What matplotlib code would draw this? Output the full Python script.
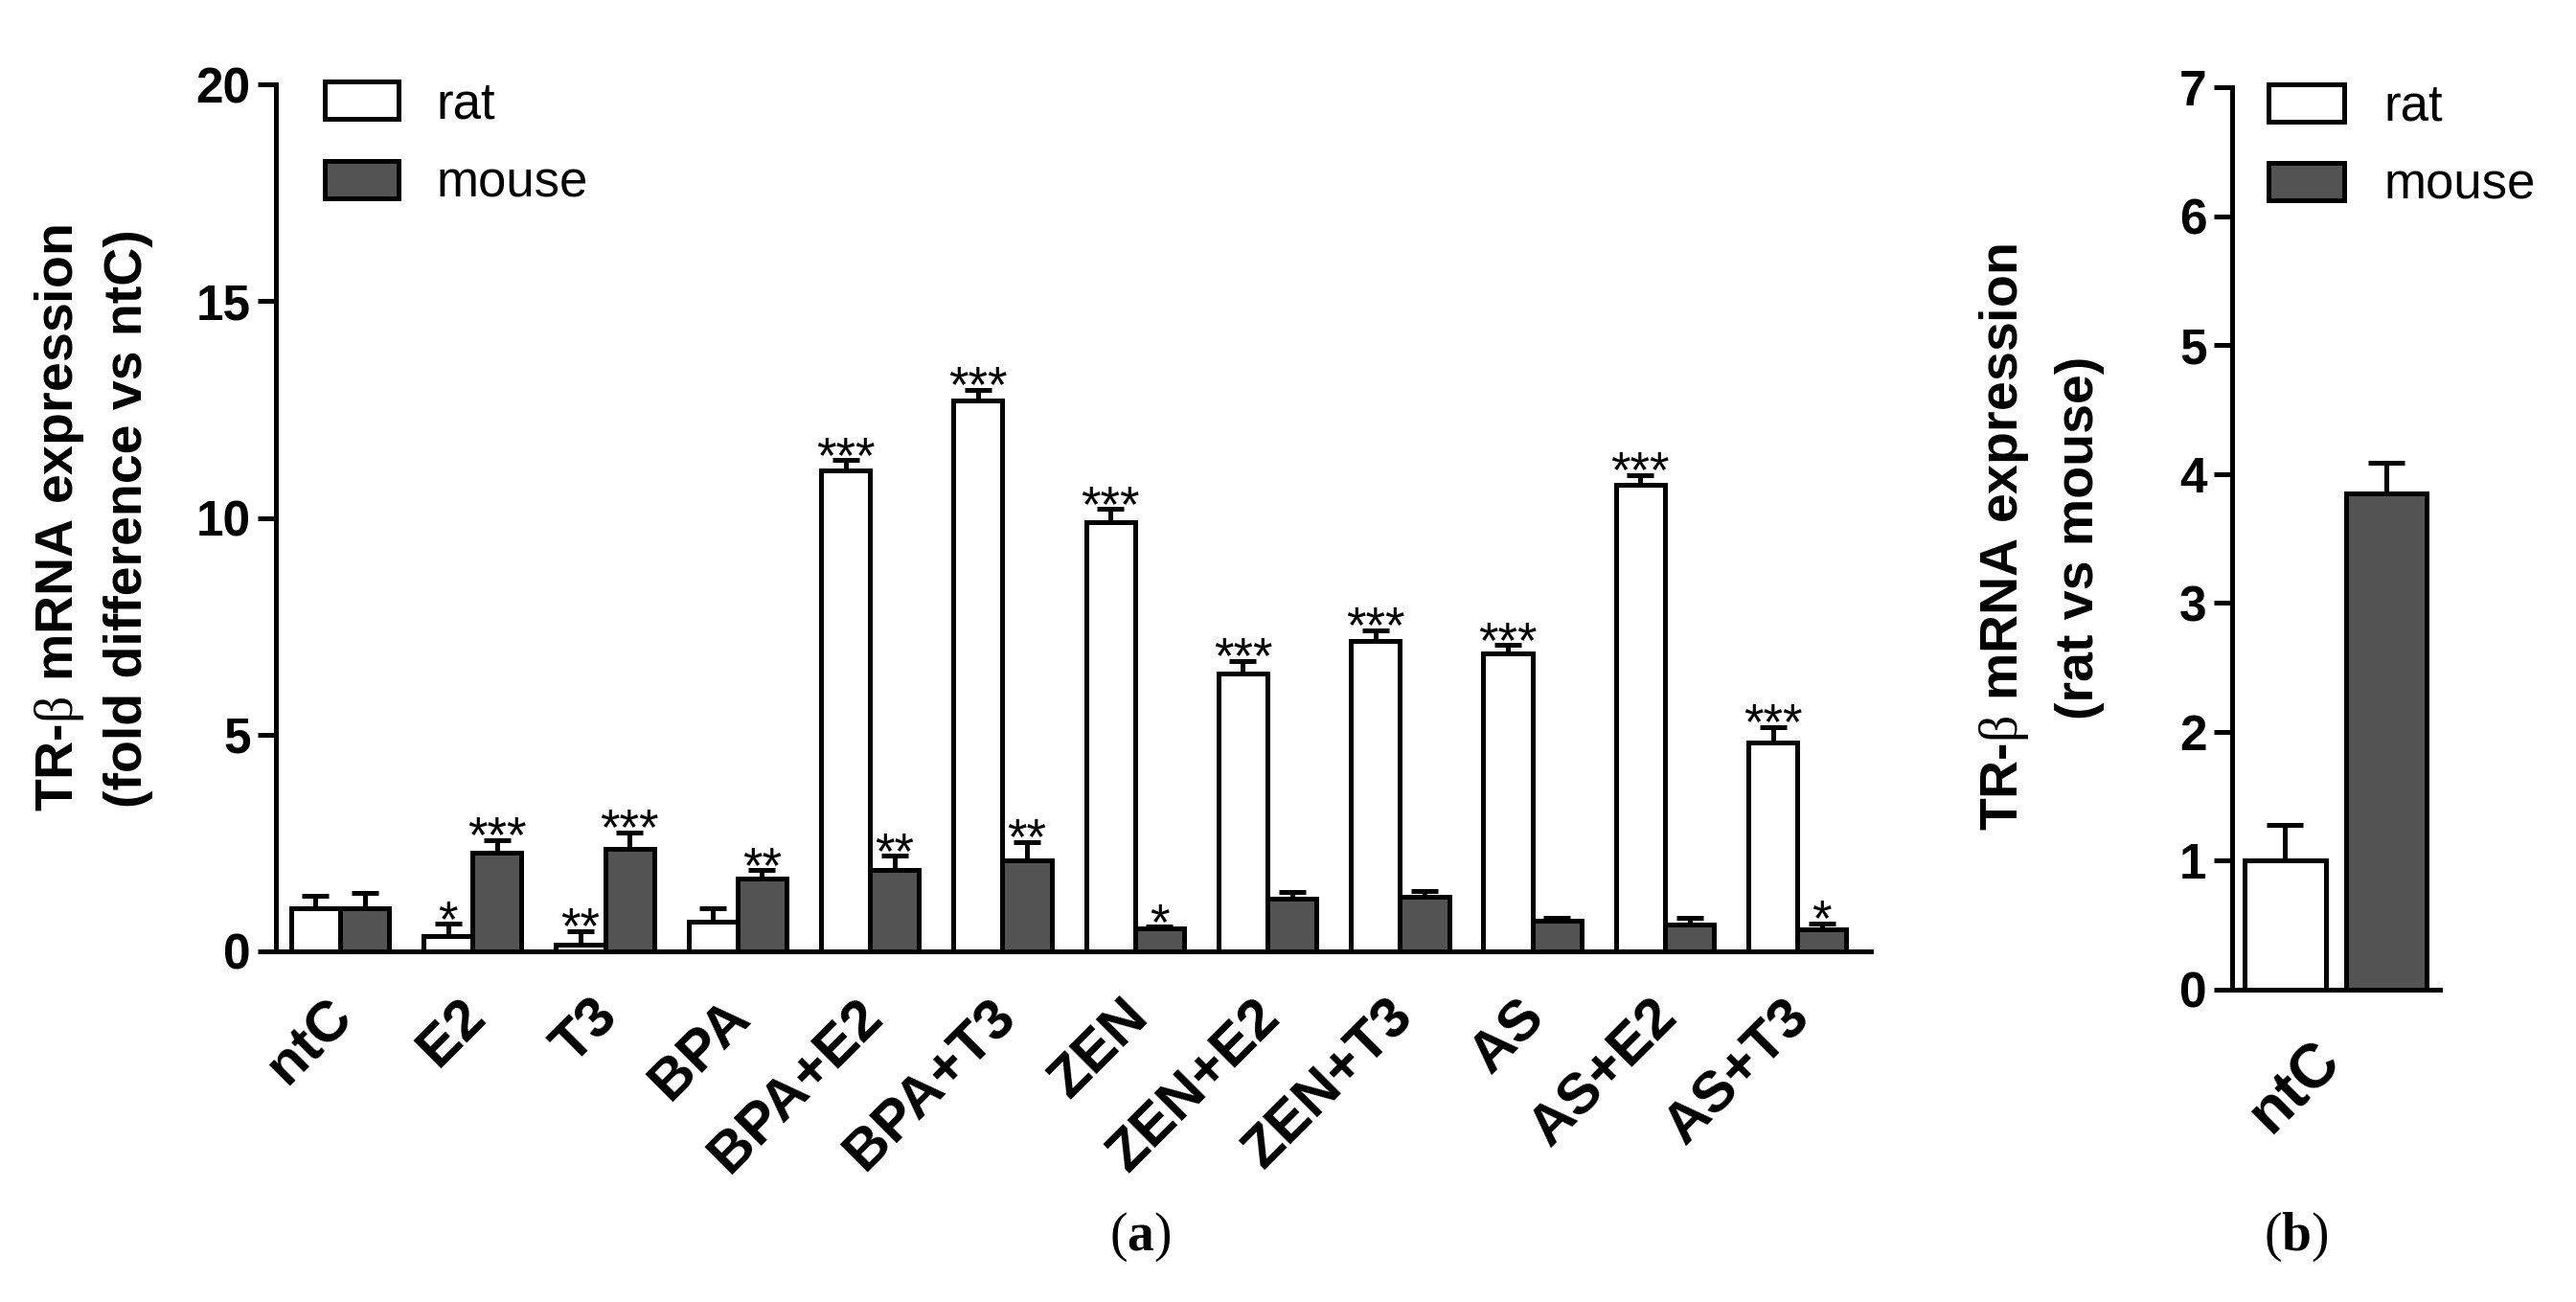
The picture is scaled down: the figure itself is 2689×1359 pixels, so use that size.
import matplotlib
matplotlib.use('Agg')
import matplotlib.pyplot as plt
import matplotlib.transforms as mtransforms
import numpy as np

plt.rcParams['font.family'] = ['Liberation Sans', 'DejaVu Sans']
plt.rcParams['mathtext.fontset'] = 'custom'
plt.rcParams['mathtext.rm'] = 'Liberation Serif'
plt.rcParams['mathtext.bf'] = 'Liberation Serif:bold'

# ---------------- data: panel (a) ----------------
categories = ['ntC', 'E2', 'T3', 'BPA', 'BPA+E2', 'BPA+T3', 'ZEN',
              'ZEN+E2', 'ZEN+T3', 'AS', 'AS+E2', 'AS+T3']
rat = [1.0, 0.35, 0.15, 0.68, 11.1, 12.7, 9.9, 6.4, 7.17, 6.88, 10.77, 4.82]
rat_err = [0.29, 0.28, 0.32, 0.31, 0.23, 0.25, 0.3, 0.3, 0.24, 0.19, 0.22, 0.35]
mouse = [1.0, 2.27, 2.37, 1.69, 1.87, 2.11, 0.52, 1.21, 1.27, 0.7, 0.62, 0.51]
mouse_err = [0.35, 0.3, 0.37, 0.18, 0.33, 0.41, 0.05, 0.16, 0.12, 0.08, 0.15, 0.13]
rat_stars = ['', '*', '**', '', '***', '***', '***', '***', '***', '***', '***', '***']
mouse_stars = ['', '***', '***', '**', '**', '**', '*', '', '', '', '', '*']

# ---------------- data: panel (b) ----------------
b_categories = ['ntC']
b_rat = [1.0]
b_rat_err = [0.28]
b_mouse = [3.85]
b_mouse_err = [0.24]

series_labels = ['rat', 'mouse']
a_ylabel = ['TR-$\\mathrm{\\beta}$ mRNA expression', '(fold difference vs ntC)']
b_ylabel = ['TR-$\\mathrm{\\beta}$ mRNA expression', '(rat vs mouse)']

W, H = 2689, 1359
DPI = 100
fig = plt.figure(figsize=(W / DPI, H / DPI), dpi=DPI)
fig.patch.set_facecolor('white')

DARK = '#535353'
LW = 3.6
FS = 37        # tick labels
FS_X = 43      # category labels
FS_LEG = 38    # legend
FS_YL = 40     # axis titles
FS_STAR = 38


def style_axes(ax):
    for s in ['top', 'right']:
        ax.spines[s].set_visible(False)
    for s in ['left', 'bottom']:
        ax.spines[s].set_linewidth(LW)
    ax.tick_params(axis='y', direction='out', length=14, width=LW, pad=5,
                   labelsize=FS)
    ax.tick_params(axis='x', length=0)
    for lbl in ax.get_yticklabels():
        lbl.set_fontweight('bold')


def px(x_px, y_px):
    return x_px / W, 1 - y_px / H


# ---------------- panel (a) ----------------
l, b = px(288, 993)
ax = fig.add_axes([l, b, (1953 - 288) / W, (993 - 88) / H])
x = np.arange(len(categories))
w = 0.37
ax.bar(x - w / 2, rat, w, color='white', edgecolor='black', linewidth=LW,
       label=series_labels[0], zorder=2)
ax.bar(x + w / 2, mouse, w, color=DARK, edgecolor='black', linewidth=LW,
       label=series_labels[1], zorder=2)
ax.errorbar(x - w / 2, rat, yerr=[np.zeros(len(rat)), rat_err], fmt='none',
            ecolor='black', elinewidth=LW, capsize=10, capthick=LW, zorder=3)
ax.errorbar(x + w / 2, mouse, yerr=[np.zeros(len(mouse)), mouse_err], fmt='none',
            ecolor='black', elinewidth=LW, capsize=10, capthick=LW, zorder=3)
for xi, v, e, s in zip(x - w / 2, rat, rat_err, rat_stars):
    if s:
        ax.annotate(s, xy=(xi, v + e), xytext=(0, -9), textcoords='offset points',
                    ha='center', va='baseline', fontsize=FS_STAR)
for xi, v, e, s in zip(x + w / 2, mouse, mouse_err, mouse_stars):
    if s:
        ax.annotate(s, xy=(xi, v + e), xytext=(0, -9), textcoords='offset points',
                    ha='center', va='baseline', fontsize=FS_STAR)

ax.set_xlim(-0.484, 11.555)
ax.set_ylim(0, 20)
ax.set_yticks([0, 5, 10, 15, 20])
ax.set_xticks(x)
ax.set_xticklabels(categories, rotation=45, ha='right', va='top',
                   fontweight='bold', fontsize=FS_X)
style_axes(ax)
ax.tick_params(axis='x', pad=29)
off = mtransforms.ScaledTranslation(24 / DPI, 0, fig.dpi_scale_trans)
for lbl in ax.get_xticklabels():
    lbl.set_transform(lbl.get_transform() + off)

ax.legend(loc='upper left', bbox_to_anchor=px(339, 84),
          bbox_transform=fig.transFigure, frameon=False, fontsize=FS_LEG,
          handlelength=1.45, handleheight=0.75, handletextpad=0.75,
          labelspacing=0.62, borderpad=0, borderaxespad=0)

fig.text(*px(62, 541), a_ylabel[0], rotation=90, ha='center', va='center',
         fontsize=FS_YL, fontweight='bold')
fig.text(*px(134, 541), a_ylabel[1], rotation=90, ha='center', va='center',
         fontsize=FS_YL, fontweight='bold')

# ---------------- panel (b) ----------------
l, b = px(2330, 1033)
axb = fig.add_axes([l, b, (2547 - 2330) / W, (1033 - 91) / H])
wb = 0.8
axb.bar([0], b_rat, wb, color='white', edgecolor='black', linewidth=LW,
        label=series_labels[0], zorder=2)
axb.bar([1], b_mouse, wb, color=DARK, edgecolor='black', linewidth=LW,
        label=series_labels[1], zorder=2)
axb.errorbar([0], b_rat, yerr=[[0], b_rat_err], fmt='none', ecolor='black',
             elinewidth=LW, capsize=14, capthick=LW, zorder=3)
axb.errorbar([1], b_mouse, yerr=[[0], b_mouse_err], fmt='none', ecolor='black',
             elinewidth=LW, capsize=14, capthick=LW, zorder=3)
axb.set_xlim(-0.526, 1.531)
axb.set_ylim(0, 7)
axb.set_yticks(range(0, 8))
axb.set_xticks([0.5])
axb.set_xticklabels(b_categories, rotation=45, ha='right', va='top',
                    fontweight='bold', fontsize=46)
style_axes(axb)
axb.tick_params(axis='x', pad=31)
offb = mtransforms.ScaledTranslation(17 / DPI, 0, fig.dpi_scale_trans)
for lbl in axb.get_xticklabels():
    lbl.set_transform(lbl.get_transform() + offb)

axb.legend(loc='upper left', bbox_to_anchor=px(2368, 87),
           bbox_transform=fig.transFigure, frameon=False, fontsize=FS_LEG,
           handlelength=1.5, handleheight=0.75, handletextpad=0.78,
           labelspacing=0.6, borderpad=0, borderaxespad=0)

fig.text(*px(2092, 561), b_ylabel[0], rotation=90, ha='center', va='center',
         fontsize=FS_YL, fontweight='bold')
fig.text(*px(2171, 561), b_ylabel[1], rotation=90, ha='center', va='center',
         fontsize=FS_YL, fontweight='bold')

# panel letters
fig.text(*px(1190, 1291), r'($\mathbf{a}$)', fontfamily='Liberation Serif',
         fontsize=40, ha='center', va='center')
fig.text(*px(2397, 1291), r'($\mathbf{b}$)', fontfamily='Liberation Serif',
         fontsize=40, ha='center', va='center')

fig.savefig('out.png', dpi=DPI, facecolor='white')
